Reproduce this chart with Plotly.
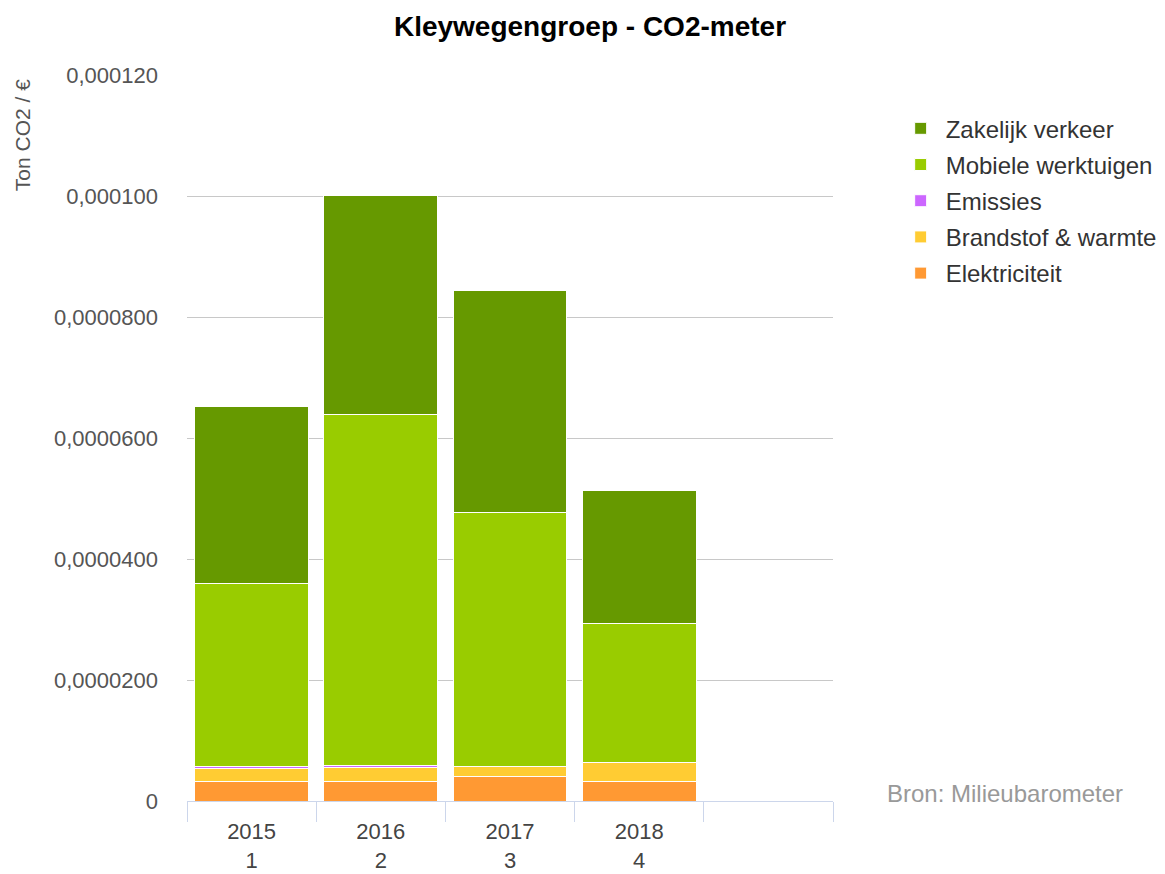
import plotly.graph_objects as go

years = ["2015", "2016", "2017", "2018"]
idx = ["1", "2", "3", "4"]
categories = [f"{y}<br>{i}" for y, i in zip(years, idx)] + [" "]

elektriciteit = [3.3e-6, 3.3e-6, 4.0e-6, 3.3e-6]
brandstof = [2.0e-6, 2.3e-6, 1.7e-6, 3.0e-6]
emissies = [0.4e-6, 0.35e-6, 0.05e-6, 0.0]
mobiele = [3.02e-5, 5.80e-5, 4.20e-5, 2.30e-5]
zakelijk = [2.93e-5, 3.62e-5, 3.67e-5, 2.20e-5]

ytick_vals = [0, 0.00002, 0.00004, 0.00006, 0.00008, 0.0001, 0.00012]
ytick_text = ["0", "0,0000200", "0,0000400", "0,0000600", "0,0000800", "0,000100", "0,000120"]

series = [
    ("Elektriciteit", elektriciteit, "#ff9933"),
    ("Brandstof & warmte", brandstof, "#ffcc33"),
    ("Emissies", emissies, "#cc66ff"),
    ("Mobiele werktuigen", mobiele, "#99cc00"),
    ("Zakelijk verkeer", zakelijk, "#669900"),
]

font = "Liberation Sans, Arial, sans-serif"
W, H = 1157, 866
fig = go.Figure()
n = len(series)
for i, (name, vals, col) in enumerate(series):
    fig.add_trace(go.Bar(
        x=categories[:4], y=vals, name=name, legendgroup=name, legendrank=n - i,
        marker=dict(color=col, line=dict(color="white", width=1)),
    ))

fig.update_layout(
    barmode="stack",
    bargap=0.12,
    width=W, height=H,
    paper_bgcolor="white", plot_bgcolor="white",
    margin=dict(l=179, r=332, t=67, b=73, autoexpand=False),
    font=dict(family=font, color="#666666"),
    title=dict(text="<b>Kleywegengroep - CO2-meter</b>", x=582 / W, xanchor="center",
               y=1 - 18 / H, yanchor="middle", font=dict(size=28, color="#000000", family=font)),
    legend=dict(traceorder="grouped", x=1.097, xanchor="left", y=0.957, yanchor="top",
                font=dict(size=24, color="#333333", family=font), itemwidth=40,
                tracegroupgap=2),
    showlegend=True,
)
fig.update_xaxes(
    type="category", categoryorder="array", categoryarray=categories,
    range=[-0.5, 4.5], tickson="boundaries", ticks="outside", ticklen=20,
    tickcolor="#ccd6eb", showline=True, linecolor="#ccd6eb", linewidth=1,
    tickfont=dict(size=22, color="#444444", family=font), showgrid=False,
    ticklabelstandoff=11, automargin=False,
)
fig.update_yaxes(
    range=[0, 0.0001201], tickvals=ytick_vals, ticktext=ytick_text,
    showgrid=True, gridcolor="#c8c8c8", gridwidth=1, zeroline=False,
    tickfont=dict(size=22, color="#555555", family=font), ticklabelstandoff=28,
    automargin=False,
)
fig.add_annotation(text="Ton CO2 / €", xref="paper", yref="paper", x=(14 - 179) / 646, y=0.997,
                   xanchor="center", yanchor="top", textangle=-90, showarrow=False,
                   font=dict(size=21, color="#555555", family=font))
fig.add_annotation(text="Bron: Milieubarometer", xref="paper", yref="paper", x=(1117 - 179) / 646,
                   y=0.011, xanchor="right", yanchor="middle", showarrow=False,
                   font=dict(size=24, color="#999999", family=font))
fig.write_html("out.html")
